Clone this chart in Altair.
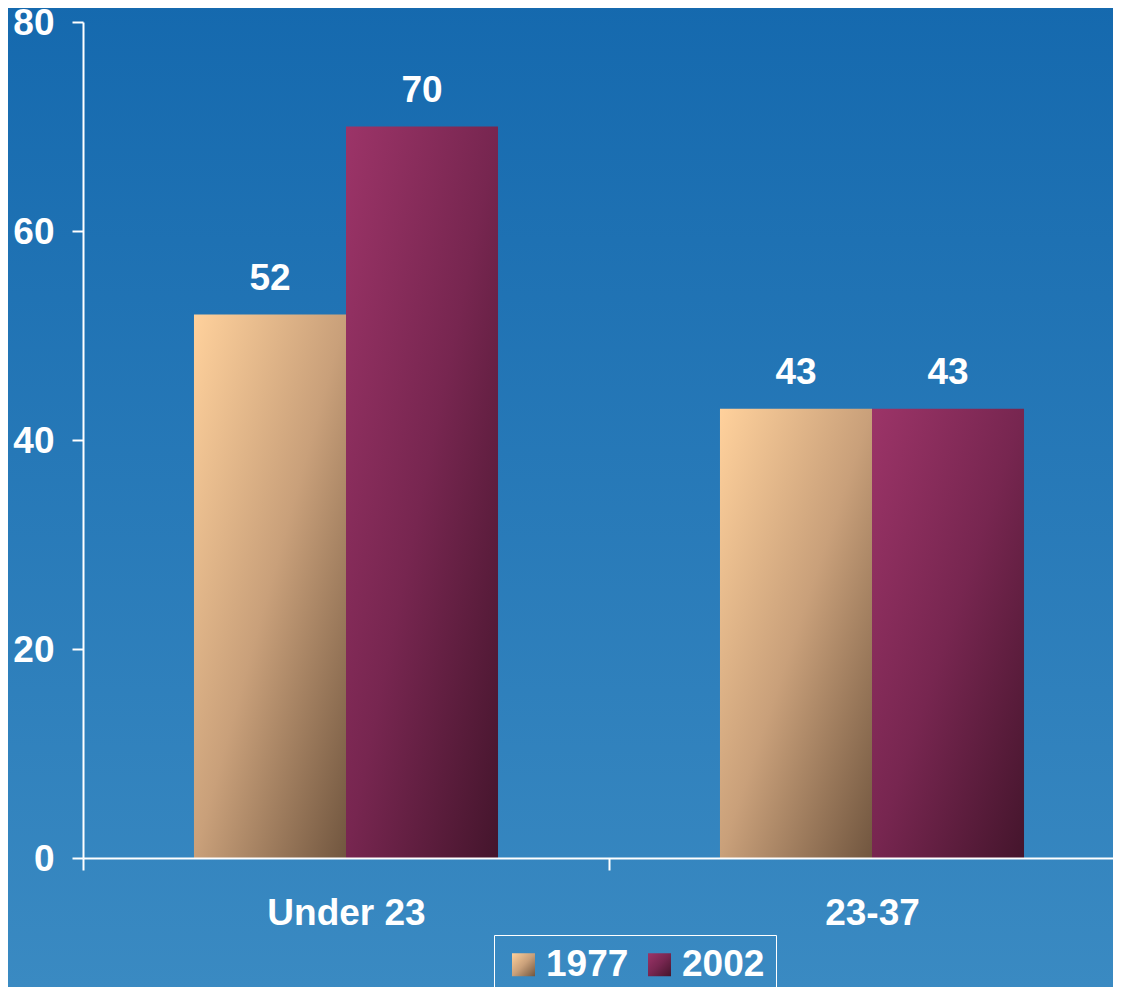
import altair as alt
import pandas as pd

categories = ["Under 23", "23-37"]
years = ["1977", "2002"]
values_1977 = [52, 43]
values_2002 = [70, 43]
y_ticks = [0, 20, 40, 60, 80]

rows = []
for i, c in enumerate(categories):
    rows.append({"category": c, "year": years[0], "value": values_1977[i]})
    rows.append({"category": c, "year": years[1], "value": values_2002[i]})
df = pd.DataFrame(rows)

FONT = "Liberation Sans"
FS = 37

g1977 = ("{gradient: 'linear', x1: 0, y1: 0, x2: 1, y2: 1, stops: ["
         "{offset: 0, color: '#ffd19c'}, {offset: 0.5, color: '#c9a07a'}, {offset: 1, color: '#71563f'}]}")
g2002 = ("{gradient: 'linear', x1: 0, y1: 0, x2: 1, y2: 1, stops: ["
         "{offset: 0, color: '#9c3468'}, {offset: 0.5, color: '#772650'}, {offset: 1, color: '#44152c'}]}")

bg_grad = alt.Gradient(
    gradient="linear", x1=0, y1=0, x2=0, y2=1,
    stops=[alt.GradientStop(color="#1569ae", offset=0),
           alt.GradientStop(color="#3a8ac2", offset=1)],
)

background = alt.Chart(pd.DataFrame({"k": [0]})).mark_rect(fill=bg_grad, clip=False).encode(
    x=alt.value(-90), x2=alt.value(1060), y=alt.value(-22), y2=alt.value(966)
)

x_enc = alt.X(
    "category:N", sort=categories,
    scale=alt.Scale(range=[0, 1052], paddingInner=0, paddingOuter=0),
    axis=alt.Axis(title=None, labelAngle=0, tickBand="extent", tickSize=12,
                  labelPadding=25, domainWidth=2, tickWidth=2, zindex=2),
)
xoff = alt.XOffset("year:N", sort=years,
                   scale=alt.Scale(paddingInner=0, paddingOuter=0.73))
y_enc = alt.Y(
    "value:Q", scale=alt.Scale(domain=[0, 80], nice=False),
    axis=alt.Axis(title=None, values=y_ticks, tickSize=11, labelPadding=18,
                  labelOffset=1, domainWidth=2, tickWidth=2, grid=False, zindex=2),
)

bars = alt.Chart(df).mark_bar().encode(
    x=x_enc, xOffset=xoff, y=y_enc,
    color=alt.Color(
        "year:N", sort=years,
        scale=alt.Scale(domain=years, range=[{"expr": g1977}, {"expr": g2002}]),
        legend=alt.Legend(
            title=None, orient="none", legendX=411, legendY=913, direction="horizontal",
            strokeColor="white", padding=11, symbolType="square", symbolSize=529,
            symbolStrokeWidth=0, symbolOpacity=1, labelFontSize=FS, labelFont=FONT,
            labelFontWeight="bold", labelColor="white", columnPadding=12, labelOffset=4,
        ),
    ),
)

labels = alt.Chart(df).mark_text(
    dy=-25, baseline="alphabetic", align="center", fontSize=FS, fontWeight="bold",
    font=FONT, color="white",
).encode(x=x_enc, xOffset=xoff, y=y_enc, text="value:Q")

chart = alt.layer(background, bars, labels).properties(
    width=1030, height=836,
    autosize=alt.AutoSizeParams(type="none"),
    padding={"left": 75, "top": 14, "right": 0, "bottom": 129},
    background="#2278b6",
).configure_view(stroke=None).configure_axis(
    domainColor="white", tickColor="white", labelColor="white", labelFont=FONT,
    labelFontSize=FS, labelFontWeight="bold",
)

chart.save("out.html", embed_options={"renderer": "svg", "actions": False})
